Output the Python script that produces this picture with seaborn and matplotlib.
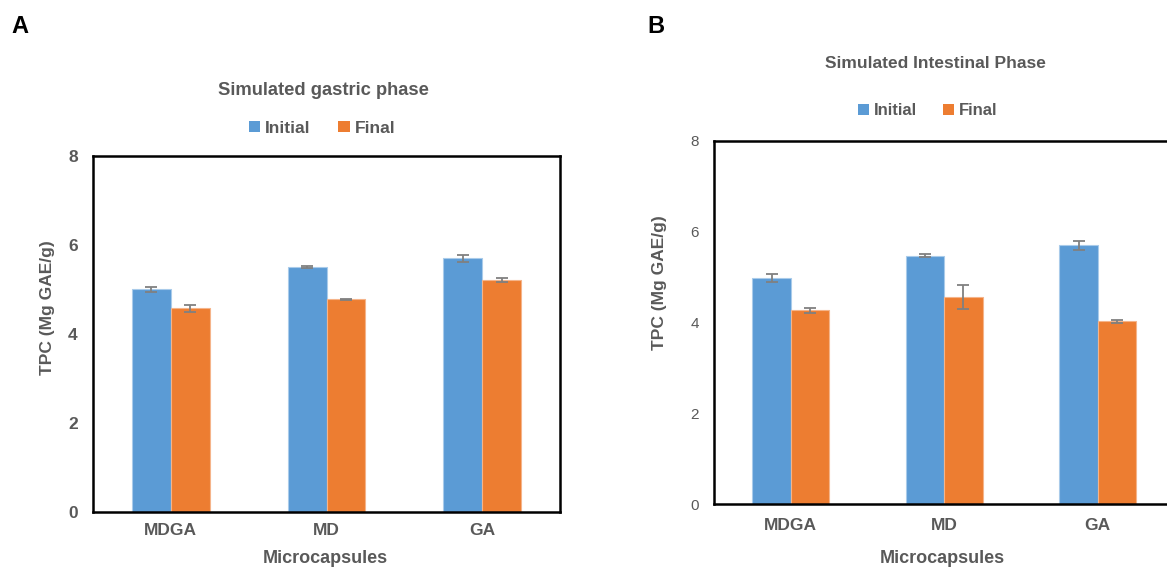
import matplotlib
matplotlib.use("Agg")
import matplotlib.pyplot as plt
from matplotlib.patches import Patch
import seaborn as sns
import pandas as pd

# Microcapsule types and TPC readings (mg GAE/g)
capsules = ["MDGA", "MD", "GA"]
stages = ["Initial", "Final"]

gastric_initial = [5.00, 5.50, 5.70]
gastric_final = [4.58, 4.78, 5.21]
gastric_initial_err = [0.05, 0.02, 0.08]
gastric_final_err = [0.08, 0.01, 0.05]

intestinal_initial = [4.98, 5.47, 5.70]
intestinal_final = [4.27, 4.56, 4.03]
intestinal_initial_err = [0.08, 0.03, 0.10]
intestinal_final_err = [0.05, 0.27, 0.03]

y_ticks = [0, 2, 4, 6, 8]

BLUE = "#5B9BD5"
ORANGE = "#ED7D31"
GREY = "#595959"
ERR = "#808080"

sns.set_theme(style="white")
plt.rcParams["font.family"] = ["Liberation Sans", "DejaVu Sans"]


def frame(initial, final):
    return pd.DataFrame({
        "capsule": capsules * 2,
        "stage": [stages[0]] * 3 + [stages[1]] * 3,
        "tpc": list(initial) + list(final),
    })


def draw_panel(ax, initial, final, init_err, final_err, bold_ticks, ytick_size, xtick_pad):
    df = frame(initial, final)
    sns.barplot(data=df, x="capsule", y="tpc", hue="stage", order=capsules,
                hue_order=stages, palette=[BLUE, ORANGE], width=0.5,
                errorbar=None, legend=False, saturation=1, ax=ax)
    for cont, errs, edge in zip(ax.containers, [init_err, final_err], ["#A9CBEA", "#F5B48A"]):
        xs = [b.get_x() + b.get_width() / 2 for b in cont]
        hs = [b.get_height() for b in cont]
        for b in cont:
            b.set_edgecolor(edge)
            b.set_linewidth(0.8)
        ax.errorbar(xs, hs, yerr=errs, fmt="none", ecolor=ERR, elinewidth=1.3,
                    capsize=4, capthick=1.3, zorder=5)
    ax.set_xlim(-0.5, 2.5)
    ax.set_ylim(0, 8)
    ax.set_yticks(y_ticks)
    ax.set_yticklabels([str(t) for t in y_ticks], fontsize=ytick_size,
                       fontweight="bold" if bold_ticks else "normal", color=GREY)
    ax.set_xticks(range(len(capsules)))
    ax.set_xticklabels(capsules, fontsize=12.5, fontweight="bold", color=GREY)
    ax.tick_params(axis="y", length=0, pad=11)
    ax.tick_params(axis="x", length=0, pad=xtick_pad)
    for s in ax.spines.values():
        s.set_visible(True)
        s.set_color("black")
        s.set_linewidth(1.8)
    ax.set_xlabel("Microcapsules", fontsize=13, fontweight="bold", color=GREY)
    ax.set_ylabel("TPC (Mg GAE/g)", fontsize=12.5, fontweight="bold", color=GREY)


fig = plt.figure(figsize=(11.67, 5.69), dpi=100)
fig.patch.set_facecolor("white")

ax_a = fig.add_axes([0.0797, 0.1002, 0.4002, 0.6257])
ax_b = fig.add_axes([0.6118, 0.1142, 0.3946, 0.6380])

draw_panel(ax_a, gastric_initial, gastric_final, gastric_initial_err,
           gastric_final_err, True, 12.5, 8)
draw_panel(ax_b, intestinal_initial, intestinal_final, intestinal_initial_err,
           intestinal_final_err, False, 11, 10)

ax_a.yaxis.set_label_coords(-0.082, 0.573)
ax_b.yaxis.set_label_coords(-0.103, 0.609)
ax_a.xaxis.set_label_coords(0.497, -0.107)
ax_b.xaxis.set_label_coords(0.495, -0.127)

# Panel titles
fig.text(0.2768, 0.8418, "Simulated gastric phase", ha="center", va="center",
         fontsize=13.2, fontweight="bold", color=GREY)
fig.text(0.802, 0.889, "Simulated Intestinal Phase", ha="center", va="center",
         fontsize=12.5, fontweight="bold", color=GREY)

# Legends
handles = [Patch(facecolor=BLUE, edgecolor="none"), Patch(facecolor=ORANGE, edgecolor="none")]
for center, size in [((0.276, 0.775), 12.5), ((0.795, 0.805), 12)]:
    fig.legend(handles, stages, loc="center", bbox_to_anchor=center, ncol=2,
               frameon=False, handlelength=0.65, handleheight=0.65,
               handletextpad=0.3, columnspacing=1.6,
               prop={"size": size, "weight": "bold"}, labelcolor=GREY)

# Panel letters
fig.text(0.017, 0.953, "A", ha="center", va="center", fontsize=17,
         fontweight="bold", color="black")
fig.text(0.562, 0.953, "B", ha="center", va="center", fontsize=17,
         fontweight="bold", color="black")

fig.savefig("out.png", dpi=100, facecolor="white")
